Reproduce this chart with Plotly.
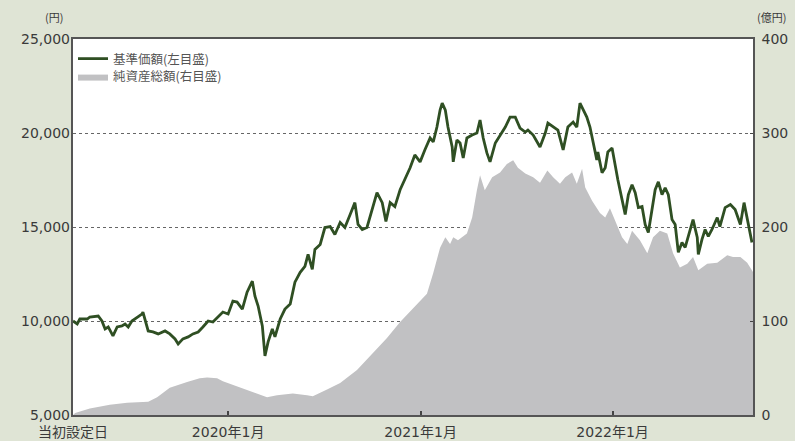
import datetime as dt
import plotly.graph_objects as go

LAUNCH = dt.date(2019, 3, 12)

# 基準価額 (円): observation day (days since launch) and value
nav_day = [0, 8, 13, 27, 32, 48, 55, 61, 67, 76, 84, 93, 99, 105, 112, 122, 131, 133, 139, 143,
           152, 162, 175, 184, 194, 200, 209, 219, 228, 238, 247, 257, 266, 276, 285, 295, 304, 312,
           322, 331, 341, 346, 352, 360, 365, 371, 379, 384, 394, 403, 413, 422, 432, 441, 447, 455,
           460, 470, 479, 489, 498, 508, 517, 527, 536, 542, 550, 559, 569, 578, 588, 595, 603, 612,
           622, 631, 641, 650, 660, 669, 679, 685, 692, 698, 702, 708, 713, 721, 723, 730, 736, 742,
           749, 759, 768, 774, 780, 787, 793, 803, 812, 822, 831, 841, 850, 860, 865, 875, 888, 898,
           903, 913, 922, 932, 941, 951, 958, 964, 970, 977, 983, 989, 996, 998, 1006, 1012, 1017,
           1025, 1031, 1036, 1044, 1050, 1056, 1063, 1069, 1075, 1082, 1088, 1094, 1101, 1107, 1113,
           1120, 1126, 1132, 1139, 1145, 1151, 1158, 1164, 1170, 1179, 1187, 1189, 1196, 1202, 1208,
           1215, 1225, 1230, 1240, 1250, 1259, 1269, 1276, 1284, 1291]
nav_val = [10000, 9841, 10106, 10106, 10212, 10265, 10000, 9577, 9683, 9207, 9683, 9736, 9841, 9683,
           10000, 10212, 10370, 10476, 9947, 9471, 9418, 9312, 9471, 9312, 9048, 8783, 9048, 9154,
           9312, 9418, 9683, 10000, 9947, 10212, 10476, 10370, 11058, 11005, 10635, 11534, 12116,
           11323, 10794, 9736, 8148, 8889, 9577, 9154, 10106, 10635, 10899, 12063, 12592, 12910,
           13544, 12751, 13809, 14073, 14973, 15026, 14602, 15237, 14973, 15661, 16296, 15132, 14867,
           14973, 15925, 16825, 16296, 15291, 16296, 16084, 16983, 17512, 18147, 18835, 18465, 19099,
           19734, 19522, 20316, 21215, 21585, 21215, 20316, 19258, 18465, 19628, 19469, 18676, 19734,
           19893, 19999, 20686, 19734, 18941, 18465, 19469, 19893, 20316, 20845, 20845, 20263, 20051,
           20157, 19893, 19258, 19999, 20527, 20316, 20157, 19099, 20316, 20580, 20316, 21585, 21215,
           20845, 20316, 19469, 18570, 18993, 17882, 18147, 18993, 19205, 18147, 17512, 16454, 15661,
           16719, 17248, 16825, 16031, 16084, 15132, 14708, 16031, 16983, 17406, 16719, 17089, 16719,
           15396, 15132, 13650, 14179, 13915, 14497, 15396, 14444, 13544, 14338, 14867, 14497, 14867,
           15502, 15026, 16031, 16190, 15925, 15132, 16296, 15237, 14179]

# 純資産総額 (億円)
aum_day = [0, 4, 32, 70, 103, 143, 160, 184, 217, 241, 255, 274, 285, 304, 331, 356, 369, 388, 418,
           445, 456, 483, 508, 540, 571, 597, 622, 647, 673, 685, 698, 708, 717, 723, 732, 749, 759,
           768, 774, 783, 797, 812, 825, 837, 846, 860, 875, 888, 902, 913, 926, 936, 949, 958, 968,
           974, 987, 1002, 1012, 1021, 1031, 1044, 1054, 1063, 1078, 1092, 1103, 1116, 1130, 1141,
           1154, 1168, 1179, 1189, 1206, 1225, 1244, 1255, 1269, 1282, 1293]
aum_val = [0, 2, 7, 11, 13, 14, 19, 29, 35, 39, 40, 39, 36, 32, 27, 21, 19, 21, 23, 21, 20, 27, 34,
           48, 66, 82, 99, 114, 129, 151, 178, 189, 182, 189, 186, 193, 210, 239, 255, 239, 253, 258,
           267, 271, 263, 257, 253, 247, 260, 253, 246, 253, 258, 246, 262, 242, 228, 215, 210, 220,
           207, 189, 182, 196, 186, 172, 189, 196, 193, 172, 157, 161, 168, 154, 161, 162, 170, 168,
           168, 162, 152]

x_tick_dates = [LAUNCH, dt.date(2020, 1, 1), dt.date(2021, 1, 1), dt.date(2022, 1, 1)]
x_tick_text = ["当初設定日", "2020年1月", "2021年1月", "2022年1月"]
left_ticks = [5000, 10000, 15000, 20000, 25000]
right_ticks = [0, 100, 200, 300, 400]

nav_x = [LAUNCH + dt.timedelta(days=d) for d in nav_day]
aum_x = [LAUNCH + dt.timedelta(days=d) for d in aum_day]
x_end = LAUNCH + dt.timedelta(days=1293)

FONT = "DejaVu Sans, Noto Sans CJK JP"
JP = "Noto Sans CJK JP"
TXT = "#3a3a3a"
BG = "#dfe4d5"

fig = go.Figure()
fig.add_trace(go.Scatter(
    x=aum_x, y=aum_val, name="純資産総額(右目盛)", mode="lines",
    line=dict(width=0, color="#c1c1c3"), fill="tozeroy", fillcolor="#c1c1c3",
    yaxis="y", legend="legend2", hoverinfo="skip",
))
fig.add_trace(go.Scatter(
    x=nav_x, y=nav_val, name="基準価額(左目盛)", mode="lines",
    line=dict(width=2.8, color="#2f4f23"),
    yaxis="y2", legend="legend", hoverinfo="skip",
))

leg_common = dict(xanchor="left", yanchor="middle", bgcolor="rgba(0,0,0,0)",
                  font=dict(family=JP, size=12.5, color="#555"), itemwidth=30)

fig.update_layout(
    width=795, height=441,
    margin=dict(l=73, r=42, t=39, b=26),
    paper_bgcolor=BG,
    plot_bgcolor="#ffffff",
    font=dict(family=FONT, size=14, color=TXT),
    showlegend=True,
    legend=dict(x=0.0, y=0.9468, **leg_common),
    legend2=dict(x=0.0, y=0.8990, **leg_common),
    xaxis=dict(
        type="date", range=[LAUNCH, x_end],
        tickvals=x_tick_dates, ticktext=x_tick_text,
        ticks="inside", ticklen=4, tickcolor="#444", tickwidth=1.5,
        showgrid=False, showline=True, linecolor="#555", linewidth=1.5, mirror=True,
        tickfont=dict(size=14, color=TXT), zeroline=False,
        automargin=False, ticklabelstandoff=3,
    ),
    yaxis=dict(
        side="right", range=[0, 400], tickvals=right_ticks,
        showgrid=True, gridcolor="#666", griddash="dot", gridwidth=1,
        ticks="inside", ticklen=3, tickcolor="#444",
        showline=True, linecolor="#555", linewidth=1.5, mirror=True,
        zeroline=False, tickfont=dict(size=14, color=TXT),
        automargin=False, ticklabelstandoff=4,
    ),
    yaxis2=dict(
        side="left", overlaying="y", range=[5000, 25000], tickvals=left_ticks,
        tickformat=",d", showgrid=False, zeroline=False,
        ticks="", tickfont=dict(size=14, color=TXT),
        automargin=False, ticklabelstandoff=2,
    ),
    annotations=[
        dict(text="(円)", xref="paper", yref="paper", x=-0.0118, y=1.0, yshift=12,
             xanchor="right", yanchor="bottom", showarrow=False,
             font=dict(family=JP, size=11, color=TXT)),
        dict(text="(億円)", xref="paper", yref="paper", x=1.0515, y=1.0, yshift=12,
             xanchor="right", yanchor="bottom", showarrow=False,
             font=dict(family=JP, size=11, color=TXT)),
    ],
)

fig.write_html(
    "out.html",
    config={"displayModeBar": False},
    post_script="document.body.style.margin='0px';document.body.style.padding='0px';"
                "document.body.style.background='" + BG + "';",
)
